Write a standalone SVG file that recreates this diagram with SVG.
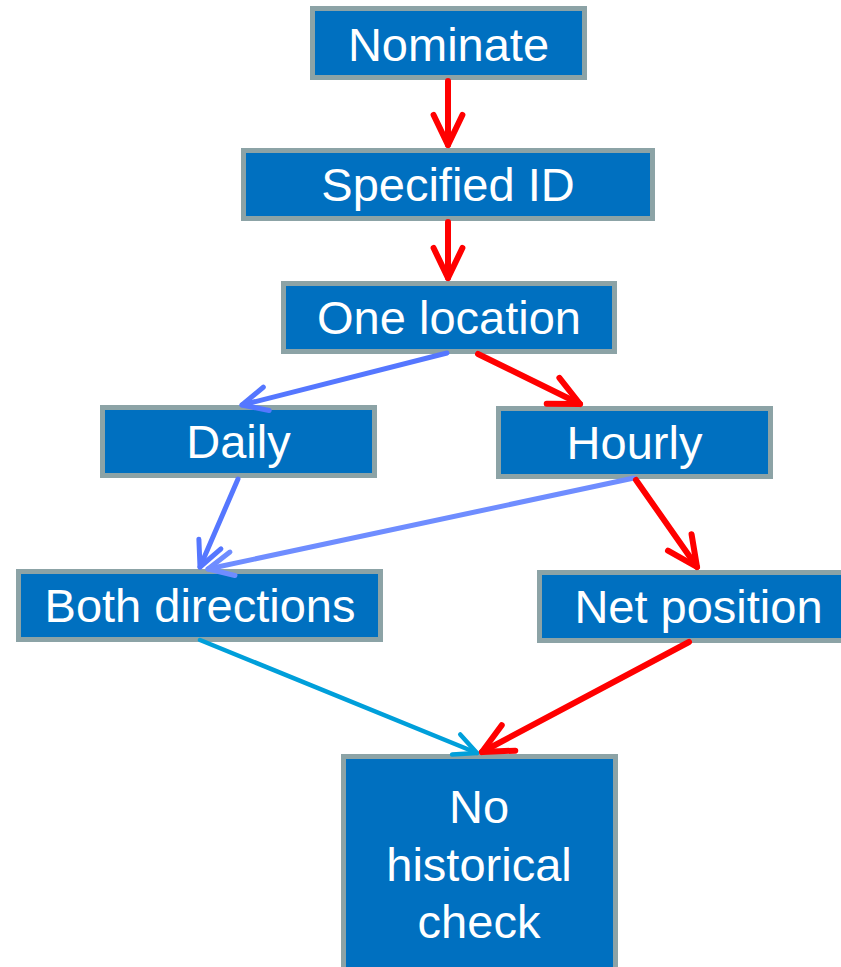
<svg xmlns="http://www.w3.org/2000/svg" width="841" height="967" viewBox="0 0 841 967">
<style>
.box{fill:#0070C0;stroke:#8CA3A6;stroke-width:5}
.lbl{font-family:"Liberation Sans",Arial,sans-serif;font-size:47px;fill:#FFFFFF;text-anchor:middle}
.c{fill:none;stroke-linecap:round}
.red{stroke:#FF0000;stroke-width:6}
.blue{stroke:#5577FF;stroke-width:5}
.lblue{stroke:#6F8DFF;stroke-width:5}
.cyan{stroke:#009FDA;stroke-width:4.5}
</style>
<defs>
<marker id="aRed" viewBox="-7 -4 8 8" markerWidth="8" markerHeight="8" refX="0" refY="0" orient="auto" markerUnits="strokeWidth">
<path d="M-5,-2.4 L0,0 L-5,2.4" fill="none" stroke="#FF0000" stroke-width="1" stroke-linecap="round" stroke-linejoin="round"/>
</marker>
<marker id="aBlue" viewBox="-7 -4 8 8" markerWidth="8" markerHeight="8" refX="0" refY="0" orient="auto" markerUnits="strokeWidth">
<path d="M-5,-2.4 L0,0 L-5,2.4" fill="none" stroke="#5577FF" stroke-width="1" stroke-linecap="round" stroke-linejoin="round"/>
</marker>
<marker id="aLBlue" viewBox="-7 -4 8 8" markerWidth="8" markerHeight="8" refX="0" refY="0" orient="auto" markerUnits="strokeWidth">
<path d="M-5,-2.4 L0,0 L-5,2.4" fill="none" stroke="#6F8DFF" stroke-width="1" stroke-linecap="round" stroke-linejoin="round"/>
</marker>
<marker id="aCyan" viewBox="-7 -4 8 8" markerWidth="8" markerHeight="8" refX="0" refY="0" orient="auto" markerUnits="strokeWidth">
<path d="M-5,-2.4 L0,0 L-5,2.4" fill="none" stroke="#009FDA" stroke-width="1" stroke-linecap="round" stroke-linejoin="round"/>
</marker>
</defs>
<rect width="841" height="967" fill="#FFFFFF"/>
<g id="nominate">
<rect class="box" x="312.5" y="8.5" width="272" height="69"/>
<text class="lbl" x="448.5" y="61">Nominate</text>
</g>
<g id="specified-id">
<rect class="box" x="243.5" y="150.5" width="409" height="68"/>
<text class="lbl" x="448" y="201">Specified ID</text>
</g>
<g id="one-location">
<rect class="box" x="283.5" y="283.5" width="331" height="68"/>
<text class="lbl" x="449" y="334">One location</text>
</g>
<g id="daily">
<rect class="box" x="102.5" y="407.5" width="272" height="68"/>
<text class="lbl" x="238.5" y="458">Daily</text>
</g>
<g id="hourly">
<rect class="box" x="498.5" y="408.5" width="272" height="68"/>
<text class="lbl" x="634.5" y="459">Hourly</text>
</g>
<g id="both-directions">
<rect class="box" x="18.5" y="571.5" width="362" height="68"/>
<text class="lbl" x="200" y="622">Both directions</text>
</g>
<g id="net-position">
<rect class="box" x="539.5" y="572.5" width="320" height="68"/>
<text class="lbl" x="698.5" y="623">Net position</text>
</g>
<g id="no-historical-check">
<rect class="box" x="343.5" y="756.5" width="272" height="230"/>
<text class="lbl" x="479" y="823">No</text>
<text class="lbl" x="479" y="881">historical</text>
<text class="lbl" x="479" y="938">check</text>
</g>
<g id="connectors">
<line class="c red" x1="448" y1="81" x2="448" y2="145" marker-end="url(#aRed)"/>
<line class="c red" x1="448" y1="222" x2="448" y2="278" marker-end="url(#aRed)"/>
<line class="c blue" x1="447" y1="353" x2="242" y2="405" marker-end="url(#aBlue)"/>
<line class="c red" x1="478" y1="354" x2="580" y2="404" marker-end="url(#aRed)"/>
<line class="c blue" x1="238" y1="479" x2="200" y2="567" marker-end="url(#aBlue)"/>
<line class="c lblue" x1="634" y1="478" x2="208" y2="569" marker-end="url(#aLBlue)"/>
<line class="c red" x1="636" y1="480" x2="697" y2="567" marker-end="url(#aRed)"/>
<line class="c cyan" x1="200" y1="640" x2="477" y2="753" marker-end="url(#aCyan)"/>
<line class="c red" x1="689" y1="642" x2="482" y2="752" marker-end="url(#aRed)"/>
</g>
</svg>
